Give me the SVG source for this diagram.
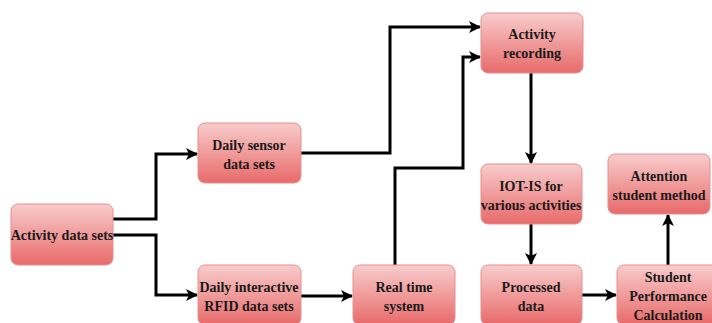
<svg xmlns="http://www.w3.org/2000/svg" width="712" height="323" viewBox="0 0 712 323">
<defs>
<linearGradient id="g" x1="0" y1="0" x2="0" y2="1">
<stop offset="0" stop-color="#f8cccc"/>
<stop offset="1" stop-color="#e86a6a"/>
</linearGradient>
<marker id="a" viewBox="0 0 12 12" refX="11" refY="6" markerWidth="12" markerHeight="12" markerUnits="userSpaceOnUse" orient="auto">
<path d="M0,0 L12,6 L0,12 L3,6 Z" fill="#000"/>
</marker>
<style>
.b{fill:url(#g);stroke:#e39090;stroke-width:1}
.t{font-family:"Liberation Serif","Times New Roman",serif;font-weight:bold;font-size:14px;fill:#1a1a1a;text-anchor:middle}
.c{fill:none;stroke:#000;stroke-width:3;marker-end:url(#a)}
</style>
</defs>
<rect width="712" height="323" fill="#fff"/>
<g id="connectors">
<path class="c" d="M113,219 H156 V154 H197"/>
<path class="c" d="M113,235 H156 V295 H197"/>
<path class="c" d="M301,153 H390 V27 H480"/>
<path class="c" d="M395,265 V168 H463 V57 H480"/>
<path class="c" d="M301,296 H352"/>
<path class="c" d="M531,73 V163"/>
<path class="c" d="M531,224 V264"/>
<path class="c" d="M582,295 H616"/>
<path class="c" d="M668,265 V215"/>
</g>
<g id="activity-data-sets"><rect class="b" x="11" y="204" width="102" height="61" rx="7"/><text class="t" x="62" y="240">Activity data sets</text></g>
<g id="daily-sensor"><rect class="b" x="198" y="123" width="103" height="60" rx="7"/><text class="t" x="249" y="150">Daily sensor</text><text class="t" x="249" y="169">data sets</text></g>
<g id="daily-rfid"><rect class="b" x="198" y="265" width="103" height="60" rx="7"/><text class="t" x="249" y="292">Daily interactive</text><text class="t" x="249" y="311">RFID data sets</text></g>
<g id="real-time"><rect class="b" x="353" y="265" width="102" height="60" rx="7"/><text class="t" x="404" y="292">Real time</text><text class="t" x="404" y="311">system</text></g>
<g id="activity-recording"><rect class="b" x="481" y="13" width="102" height="60" rx="7"/><text class="t" x="532" y="39">Activity</text><text class="t" x="532" y="58">recording</text></g>
<g id="iot-is"><rect class="b" x="481" y="164" width="101" height="60" rx="7"/><text class="t" x="531" y="191">IOT-IS for</text><text class="t" x="531" y="210">various activities</text></g>
<g id="processed-data"><rect class="b" x="481" y="265" width="101" height="60" rx="7"/><text class="t" x="531" y="292">Processed</text><text class="t" x="531" y="311">data</text></g>
<g id="student-performance"><rect class="b" x="617" y="265" width="102" height="60" rx="7"/><text class="t" x="668" y="282">Student</text><text class="t" x="668" y="301">Performance</text><text class="t" x="668" y="320">Calculation</text></g>
<g id="attention"><rect class="b" x="608" y="154" width="102" height="60" rx="7"/><text class="t" x="659" y="181">Attention</text><text class="t" x="659" y="200">student method</text></g>
</svg>
